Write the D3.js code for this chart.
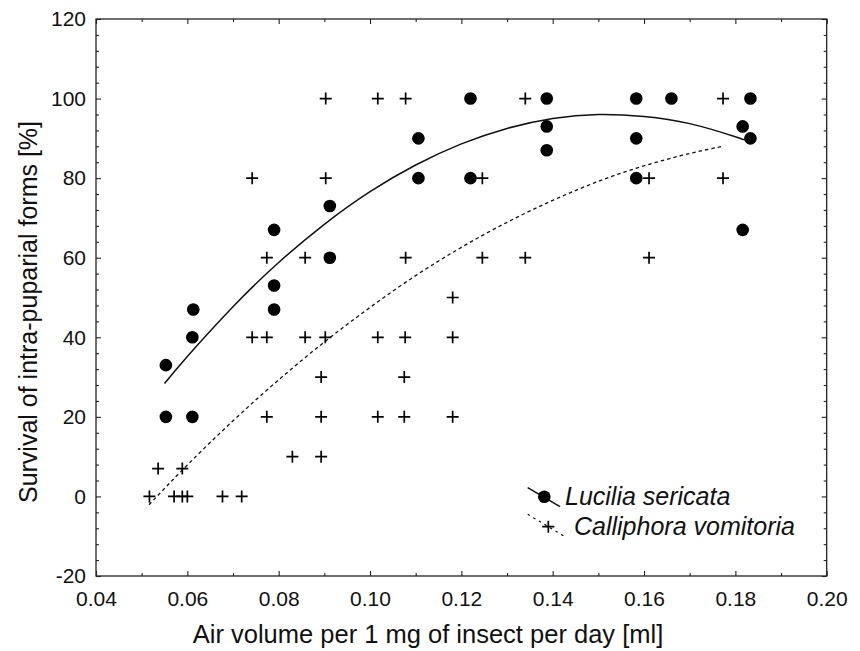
<!DOCTYPE html>
<html>
<head>
<meta charset="utf-8">
<script src="https://cdn.jsdelivr.net/npm/d3@7"></script>
<style>
  html, body { margin: 0; padding: 0; background: #fff; }
  svg { display: block; font-family: "Liberation Sans", Arial, sans-serif; }
</style>
</head>
<body>
<script>
// ---- Data ----
const lucX = [0.0553,0.0553,0.0613,0.0611,0.0611,0.0790,0.0790,0.0790,0.0912,0.0912,0.1106,0.1106,0.1220,0.1220,0.1387,0.1387,0.1387,0.1583,0.1583,0.1583,0.1660,0.1816,0.1816,0.1833,0.1833];
const lucY = [33,20,47,40,20,67,53,47,73,60,90,80,100,80,100,93,87,100,90,80,100,93,67,100,90];

const calX = [0.0517,0.0536,0.0571,0.0589,0.0589,0.0600,0.0677,0.0719,
              0.0742,0.0742,0.0774,0.0774,0.0774,0.0830,
              0.0858,0.0858,0.0903,0.0903,0.0902,0.0893,0.0893,0.0893,
              0.1017,0.1017,0.1017,
              0.1078,0.1078,0.1077,0.1075,0.1075,
              0.1181,0.1181,0.1181,
              0.1246,0.1246,
              0.1340,0.1340,
              0.1611,0.1611,
              0.1773,0.1773];
const calY = [0,7,0,7,0,0,0,0,
              80,40,60,40,20,10,
              60,40,100,80,40,30,20,10,
              100,40,20,
              100,60,40,30,20,
              50,40,20,
              80,60,
              100,60,
              80,60,
              100,80];

// fitted curves
const lucFitX = [0.055,0.06,0.07,0.08,0.09,0.10,0.11,0.12,0.13,0.14,0.15,0.16,0.17,0.18,0.182];
const lucFitY = [28.4,35.2,47.7,58.8,68.4,76.6,83.3,88.6,92.5,95.0,96.0,95.5,93.7,90.4,89.5];
const calFitX = [0.0516,0.06,0.07,0.08,0.09,0.10,0.11,0.12,0.13,0.14,0.15,0.16,0.17,0.1773];
const calFitY = [-2.1,7.9,19.0,29.3,38.8,47.5,55.5,62.6,68.9,74.4,79.2,83.1,86.2,88.0];

const xTicks = [0.04,0.06,0.08,0.10,0.12,0.14,0.16,0.18,0.20];
const xMinor = [0.05,0.07,0.09,0.11,0.13,0.15,0.17,0.19];
const yTicks = [-20,0,20,40,60,80,100,120];
const yMinor = [-16,-12,-8,-4,4,8,12,16,24,28,32,36,44,48,52,56,64,68,72,76,84,88,92,96,104,108,112,116];

const seriesNames = ["Lucilia sericata","Calliphora vomitoria"];
const xTitle = "Air volume per 1 mg of insect per day [ml]";
const yTitle = "Survival of intra-puparial forms [%]";

// ---- Layout ----
const W = 860, H = 651;
const L = 96, R = 826.7, T = 19, B = 576;

const svg = d3.select("body").append("svg").attr("width", W).attr("height", H);

const x = d3.scaleLinear().domain([0.04, 0.20]).range([L, R]);
const y = d3.scaleLinear().domain([-20, 120]).range([B, T]);

const tickFont = 21;
function styleAxis(g) {
  g.select(".domain").remove();
  g.selectAll(".tick line").attr("stroke", "#222").attr("stroke-width", 1.1);
  g.selectAll("text").attr("font-size", tickFont).attr("fill", "#111")
    .attr("font-family", "'Liberation Sans', Arial, sans-serif");
}

// bottom
svg.append("g").attr("transform", `translate(0,${B})`)
  .call(d3.axisBottom(x).tickValues(xTicks).tickFormat(d3.format(".2f")).tickSize(-5).tickPadding(15.5))
  .call(styleAxis);
svg.append("g").attr("transform", `translate(0,${B})`)
  .call(d3.axisBottom(x).tickValues(xMinor).tickFormat("").tickSize(-3))
  .call(styleAxis);
// top
svg.append("g").attr("transform", `translate(0,${T})`)
  .call(d3.axisTop(x).tickValues(xTicks).tickFormat("").tickSize(-5))
  .call(styleAxis);
svg.append("g").attr("transform", `translate(0,${T})`)
  .call(d3.axisTop(x).tickValues(xMinor).tickFormat("").tickSize(-3))
  .call(styleAxis);
// left
svg.append("g").attr("transform", `translate(${L},0)`)
  .call(d3.axisLeft(y).tickValues(yTicks).tickFormat(d => String(d)).tickSize(-5).tickPadding(10))
  .call(styleAxis);
svg.append("g").attr("transform", `translate(${L},0)`)
  .call(d3.axisLeft(y).tickValues(yMinor).tickFormat("").tickSize(-3))
  .call(styleAxis);
// right
svg.append("g").attr("transform", `translate(${R},0)`)
  .call(d3.axisRight(y).tickValues(yTicks).tickFormat("").tickSize(-5))
  .call(styleAxis);
svg.append("g").attr("transform", `translate(${R},0)`)
  .call(d3.axisRight(y).tickValues(yMinor).tickFormat("").tickSize(-3))
  .call(styleAxis);

// frame
svg.append("rect").attr("x", L).attr("y", T).attr("width", R - L).attr("height", B - T)
  .attr("fill", "none").attr("stroke", "#222").attr("stroke-width", 1.3);

// titles
svg.append("text").attr("x", 428).attr("y", 643).attr("text-anchor", "middle")
  .attr("font-size", 25.5).attr("fill", "#111").text(xTitle);
svg.append("text").attr("transform", "translate(36.5,312) rotate(-90)").attr("text-anchor", "middle")
  .attr("font-size", 25).attr("fill", "#111").text(yTitle);

// fitted curves
const line = d3.line().x(d => x(d[0])).y(d => y(d[1])).curve(d3.curveNatural);
svg.append("path").datum(lucFitX.map((v, i) => [v, lucFitY[i]]))
  .attr("d", line).attr("fill", "none").attr("stroke", "#111").attr("stroke-width", 1.5);
svg.append("path").datum(calFitX.map((v, i) => [v, calFitY[i]]))
  .attr("d", line).attr("fill", "none").attr("stroke", "#111").attr("stroke-width", 1.3)
  .attr("stroke-dasharray", "3.5,3");

// Lucilia circles
svg.append("g").selectAll("circle").data(lucX.map((v, i) => [v, lucY[i]])).join("circle")
  .attr("cx", d => x(d[0])).attr("cy", d => y(d[1])).attr("r", 6.3).attr("fill", "#000");

// Calliphora crosses
const cs = 6;
svg.append("g").selectAll("path").data(calX.map((v, i) => [v, calY[i]])).join("path")
  .attr("d", d => { const cx = x(d[0]), cy = y(d[1]);
    return `M${cx - cs},${cy}H${cx + cs}M${cx},${cy - cs}V${cy + cs}`; })
  .attr("stroke", "#000").attr("stroke-width", 1.7).attr("fill", "none");

// legend
const lg = svg.append("g");
lg.append("line").attr("x1", 527.7).attr("y1", 487.7).attr("x2", 560).attr("y2", 506.7)
  .attr("stroke", "#111").attr("stroke-width", 1.5);
lg.append("circle").attr("cx", 544.3).attr("cy", 496.7).attr("r", 6.3).attr("fill", "#000");
lg.append("line").attr("x1", 527.7).attr("y1", 514.3).attr("x2", 565).attr("y2", 536.7)
  .attr("stroke", "#111").attr("stroke-width", 1.2).attr("stroke-dasharray", "2.5,4");
lg.append("path").attr("d", `M${548.3 - cs},526.7H${548.3 + cs}M548.3,${526.7 - cs}V${526.7 + cs}`)
  .attr("stroke", "#000").attr("stroke-width", 1.7);
lg.append("text").attr("x", 565).attr("y", 505).attr("font-size", 25).attr("font-style", "italic")
  .attr("fill", "#111").text(seriesNames[0]);
lg.append("text").attr("x", 574).attr("y", 535).attr("font-size", 25).attr("font-style", "italic")
  .attr("fill", "#111").text(seriesNames[1]);
</script>
</body>
</html>
